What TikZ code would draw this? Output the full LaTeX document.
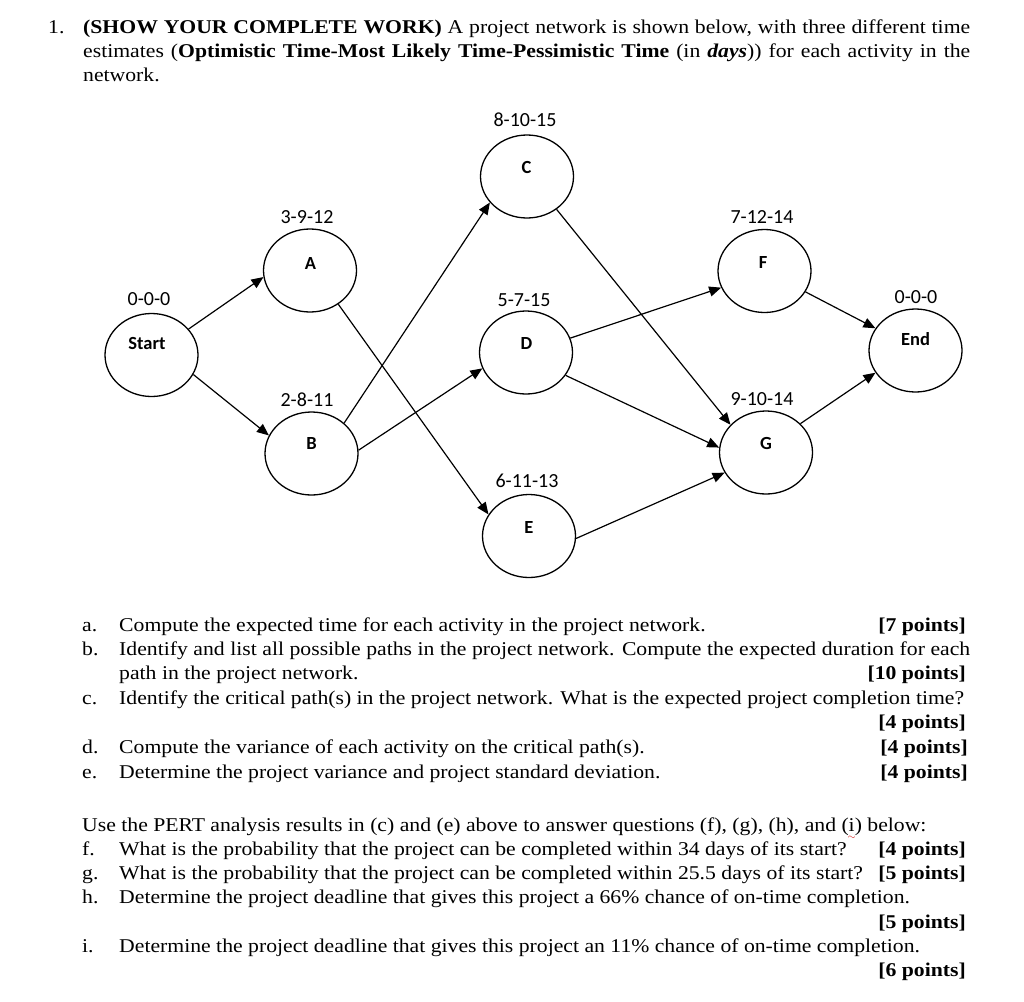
\documentclass[tikz,border=0pt]{standalone}
\usepackage{fontspec}
\setmainfont{Liberation Serif}
\newfontfamily\calib{Carlito}
\usetikzlibrary{arrows.meta,shapes.geometric}
\newcommand\squigi{\rlap{\kern-0.05em\raisebox{-0.42em}{\textcolor{red!80!black}{\fontsize{9}{9}\selectfont$\sim$}}}i}
\newcommand\sx[1]{\scalebox{1.113}[1]{#1}}
\begin{document}
\begin{tikzpicture}[x=1pt,y=-1pt,
  ev/.style={ellipse, draw, line width=1.3pt, minimum width=93pt, minimum height=83pt, inner sep=0pt},
  nm/.style={font=\calib\bfseries\fontsize{18.5}{20}\selectfont, inner sep=0pt},
  est/.style={font=\calib\fontsize{20}{22}\selectfont, inner sep=0pt},
  arr/.style={line width=1.2pt, -{Triangle[length=12pt,width=10pt]}},
  tx/.style={anchor=base west, inner sep=0pt, font=\fontsize{19.5}{24}\selectfont},
  pts/.style={anchor=base east, inner sep=0pt, font=\bfseries\fontsize{19.5}{24}\selectfont}]
\path[use as bounding box, fill=white] (0,0) rectangle (1024,1001);

% header
\node[tx] (n1) at (48,33) {\sx{1.}};
\node[tx] (h1) at (83,33) {\sx{\makebox[797pt][s]{\textbf{(SHOW YOUR COMPLETE WORK)} A project network is shown below, with three different time}}};
\node[tx] (h2) at (83,57) {\sx{\makebox[797pt][s]{estimates (\textbf{Optimistic Time-Most Likely Time-Pessimistic Time} (in \textbf{\textit{days}})) for each activity in the}}};
\node[tx] (h3) at (83,81) {\sx{network.}};

% events
\node[ev] (S) at (151.5,355) {};
\node[ev] (A) at (310,270.5) {};
\node[ev] (B) at (311.5,453.5) {};
\node[ev] (C) at (527,176.5) {};
\node[ev] (D) at (526,352.5) {};
\node[ev] (E) at (529,536) {};
\node[ev] (F) at (764.5,271) {};
\node[ev] (G) at (766,452.5) {};
\node[ev] (End) at (915.5,350.5) {};

\node[nm] (Sl) at (147,343) {Start};
\node[nm] (Al) at (310.5,263) {A};
\node[nm] (Bl) at (311.5,443) {B};
\node[nm] (Cl) at (526.5,167) {C};
\node[nm] (Dl) at (526.5,343) {D};
\node[nm] (El) at (529,527) {E};
\node[nm] (Fl) at (763,262) {F};
\node[nm] (Gl) at (766,443) {G};
\node[nm] (Endl) at (915.5,339) {End};

\node[est] (St) at (149,299) {0-0-0};
\node[est] (At) at (307,217) {3-9-12};
\node[est] (Bt) at (307,400) {2-8-11};
\node[est] (Ct) at (525,120) {8-10-15};
\node[est] (Dt) at (524,300) {5-7-15};
\node[est] (Et) at (527,481) {6-11-13};
\node[est] (Ft) at (762,217) {7-12-14};
\node[est] (Gt) at (762,399) {9-10-14};
\node[est] (Endt) at (916,297) {0-0-0};

% activities
\draw[arr] (S.35.8) -- (A.188.9);
\draw[arr] (S.-25.2) -- (B.157.4);
\draw[arr] (A.-50) -- (E.152.9);
\draw[arr] (B.43.2) -- (C.215.6);
\draw[arr] (B.4.2) -- (D.200.3);
\draw[arr] (C.-48.2) -- (G.142.6);
\draw[arr] (D.18.6) -- (F.201.8);
\draw[arr] (D.-30.9) -- (G.174.5);
\draw[arr] (E.-3.7) -- (G.206.6);
\draw[arr] (F.-27.9) -- (End.151.5);
\draw[arr] (G.40.1) -- (End.209);

% questions
\node[tx] (qa) at (82,631) {\sx{a.}};
\node[tx] (ta) at (119,631) {\sx{Compute the expected time for each activity in the project network.}};
\node[pts] (pa) at (966,631) {\sx{[7 points]}};
\node[tx] (qb) at (82,655) {\sx{b.}};
\node[tx] (tb) at (119,655) {\sx{\makebox[764.6pt][s]{Identify and list all possible paths in the project network. Compute the expected duration for each}}};
\node[tx] (tb2) at (119,679) {\sx{path in the project network.}};
\node[pts] (pb) at (966,679) {\sx{[10 points]}};
\node[tx] (qc) at (82,704) {\sx{c.}};
\node[tx] (tc) at (119,704) {\sx{Identify the critical path(s) in the project network. What is the expected project completion time?}};
\node[pts] (pc) at (966,728) {\sx{[4 points]}};
\node[tx] (qd) at (82,753) {\sx{d.}};
\node[tx] (td) at (119,753) {\sx{Compute the variance of each activity on the critical path(s).}};
\node[pts] (pd) at (968,753) {\sx{[4 points]}};
\node[tx] (qe) at (82,778) {\sx{e.}};
\node[tx] (te) at (119,778) {\sx{Determine the project variance and project standard deviation.}};
\node[pts] (pe) at (968,778) {\sx{[4 points]}};

\node[tx] (use) at (82,831) {\sx{Use the PERT analysis results in (c) and (e) above to answer questions (f), (g), (h), and (\squigi) below:}};
\node[tx] (qf) at (82,855) {\sx{f.}};
\node[tx] (tf) at (119,855) {\sx{What is the probability that the project can be completed within 34 days of its start?}};
\node[pts] (pf) at (966,855) {\sx{[4 points]}};
\node[tx] (qg) at (82,879) {\sx{g.}};
\node[tx] (tg) at (119,879) {\sx{What is the probability that the project can be completed within 25.5 days of its start?}};
\node[pts] (pg) at (966,879) {\sx{[5 points]}};
\node[tx] (qh) at (82,903) {\sx{h.}};
\node[tx] (th) at (119,903) {\sx{Determine the project deadline that gives this project a 66\% chance of on-time completion.}};
\node[pts] (ph) at (966,928) {\sx{[5 points]}};
\node[tx] (qi) at (82,952) {\sx{i.}};
\node[tx] (ti) at (119,952) {\sx{Determine the project deadline that gives this project an 11\% chance of on-time completion.}};
\node[pts] (pi) at (966,976) {\sx{[6 points]}};
\end{tikzpicture}
\end{document}
